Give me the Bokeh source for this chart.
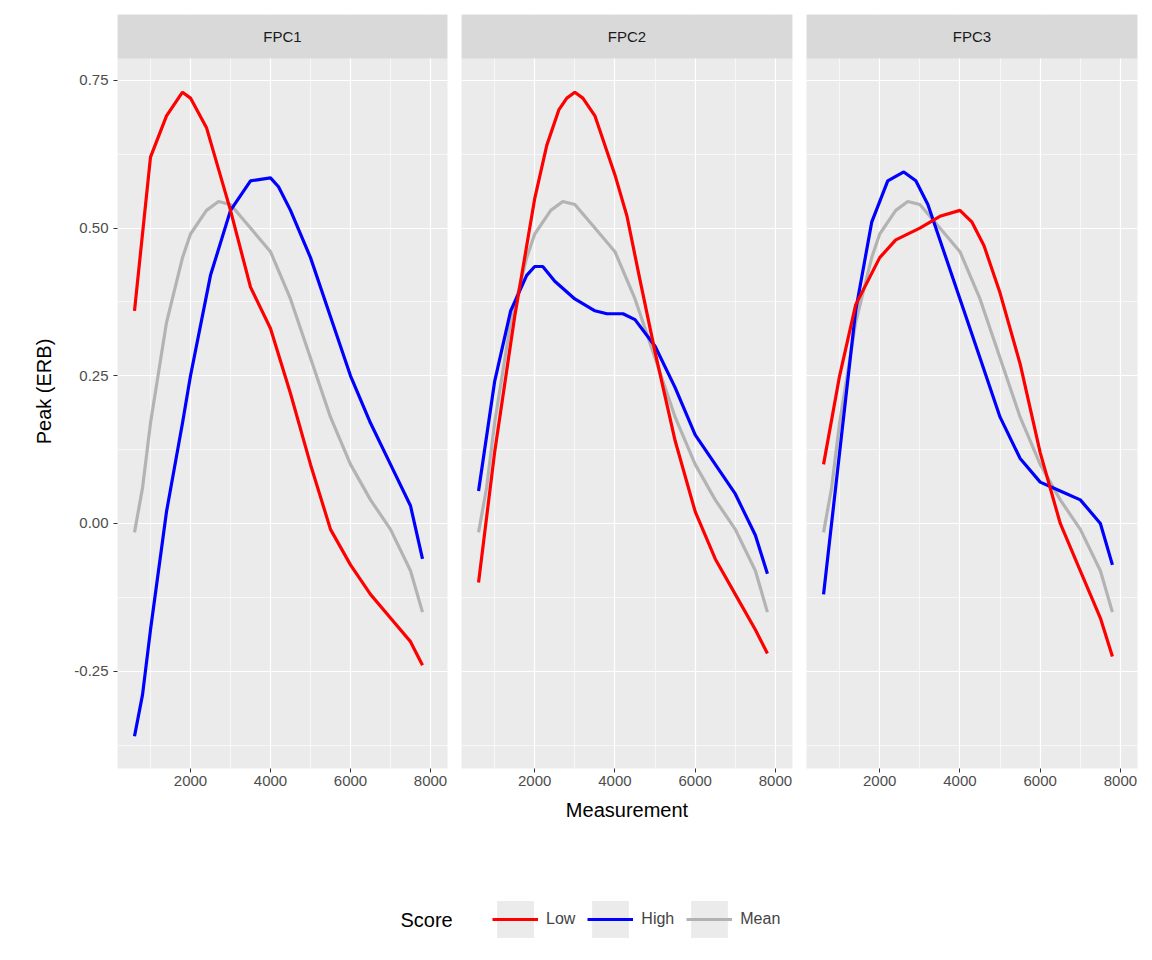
from bokeh.plotting import figure
from bokeh.layouts import column, row
from bokeh.models import FixedTicker, Legend, LegendItem, Label, Range1d
from bokeh.embed import file_html
from bokeh.resources import INLINE
from bokeh.core.properties import value

panels = ["FPC1", "FPC2", "FPC3"]
mean_x = [600, 800, 1000, 1400, 1800, 2000, 2400, 2700, 3000, 3500, 4000, 4500, 5000, 5500, 6000, 6500, 7000, 7500, 7800]
mean_y = [-0.015, 0.06, 0.17, 0.34, 0.45, 0.49, 0.53, 0.545, 0.54, 0.50, 0.46, 0.38, 0.28, 0.18, 0.10, 0.04, -0.01, -0.08, -0.15]

low_x = {
    "FPC1": [600, 1000, 1400, 1800, 2000, 2400, 3000, 3500, 4000, 4500, 5000, 5500, 6000, 6500, 7000, 7500, 7800],
    "FPC2": [600, 1000, 1500, 2000, 2300, 2600, 2800, 3000, 3200, 3500, 4000, 4300, 4600, 5000, 5500, 6000, 6500, 7000, 7500, 7800],
    "FPC3": [600, 1000, 1400, 2000, 2400, 3000, 3500, 4000, 4300, 4600, 5000, 5500, 6000, 6500, 7000, 7500, 7800],
}
low_y = {
    "FPC1": [0.36, 0.62, 0.69, 0.73, 0.72, 0.67, 0.53, 0.40, 0.33, 0.22, 0.10, -0.01, -0.07, -0.12, -0.16, -0.20, -0.24],
    "FPC2": [-0.10, 0.12, 0.35, 0.55, 0.64, 0.70, 0.72, 0.73, 0.72, 0.69, 0.59, 0.52, 0.42, 0.29, 0.14, 0.02, -0.06, -0.12, -0.18, -0.22],
    "FPC3": [0.10, 0.25, 0.37, 0.45, 0.48, 0.50, 0.52, 0.53, 0.51, 0.47, 0.39, 0.27, 0.12, 0.00, -0.08, -0.16, -0.225],
}
high_x = {
    "FPC1": [600, 800, 1000, 1400, 1800, 2000, 2500, 3000, 3500, 4000, 4200, 4500, 5000, 5500, 6000, 6500, 7000, 7500, 7800],
    "FPC2": [600, 1000, 1400, 1800, 2000, 2200, 2500, 3000, 3500, 3800, 4200, 4500, 5000, 5500, 6000, 6500, 7000, 7500, 7800],
    "FPC3": [600, 1000, 1400, 1800, 2200, 2600, 2900, 3200, 3600, 4000, 4500, 5000, 5500, 6000, 6500, 7000, 7500, 7800],
}
high_y = {
    "FPC1": [-0.36, -0.29, -0.18, 0.02, 0.17, 0.25, 0.42, 0.53, 0.58, 0.585, 0.57, 0.53, 0.45, 0.35, 0.25, 0.17, 0.10, 0.03, -0.06],
    "FPC2": [0.055, 0.24, 0.36, 0.42, 0.435, 0.435, 0.41, 0.38, 0.36, 0.355, 0.355, 0.345, 0.30, 0.23, 0.15, 0.10, 0.05, -0.02, -0.085],
    "FPC3": [-0.12, 0.12, 0.36, 0.51, 0.58, 0.595, 0.58, 0.54, 0.46, 0.38, 0.28, 0.18, 0.11, 0.07, 0.055, 0.04, 0.00, -0.07],
}
x_ticks = [2000, 4000, 6000, 8000]
x_minor = [1000, 3000, 5000, 7000]
y_ticks = [-0.25, 0.0, 0.25, 0.5, 0.75]
y_minor = [-0.375, -0.125, 0.125, 0.375, 0.625]
y_labels = {-0.25: "-0.25", 0.0: "0.00", 0.25: "0.25", 0.5: "0.50", 0.75: "0.75"}

FONT = "Liberation Sans"
Y0, Y1 = -0.4147, 0.787
STRIP_TOP = 0.8615

figs = []
for i, name in enumerate(panels):
    left = 117 if i == 0 else 7
    right = 7
    p = figure(frame_width=331 if i else 330, frame_height=754, output_backend="svg",
               toolbar_location=None, x_range=Range1d(175, 8425), y_range=Range1d(Y0, STRIP_TOP),
               min_border_left=left, min_border_right=right, min_border_top=14, min_border_bottom=72,
               background_fill_color="#ebebeb", border_fill_color="white", outline_line_color=None)
    p.xaxis.ticker = FixedTicker(ticks=x_ticks, minor_ticks=x_minor)
    p.yaxis.ticker = FixedTicker(ticks=y_ticks, minor_ticks=y_minor)
    for ax in (p.xaxis, p.yaxis):
        ax.axis_line_color = None
        ax.major_tick_line_color = "#333333"
        ax.major_tick_out = 4
        ax.major_tick_in = 0
        ax.minor_tick_line_color = None
        ax.major_label_text_font = FONT
        ax.major_label_text_font_size = "15px"
        ax.major_label_text_color = "#4d4d4d"
        ax.axis_label_text_font = FONT
        ax.axis_label_text_font_size = "20px"
        ax.axis_label_text_font_style = "normal"
        ax.axis_label_text_color = "black"
    p.yaxis.major_label_overrides = y_labels
    p.yaxis.axis_label_standoff = 16
    p.xaxis.axis_label_standoff = 10
    if i > 0:
        p.yaxis.visible = False
    else:
        p.yaxis.axis_label = "Peak (ERB)"
    if i == 1:
        p.xaxis.axis_label = "Measurement"
    p.xaxis.major_label_standoff = 3
    for g in (p.xgrid, p.ygrid):
        g.grid_line_color = "white"
        g.grid_line_width = 1.2
        g.minor_grid_line_color = "white"
        g.minor_grid_line_width = 0.6
    p.line(mean_x, mean_y, line_color="#b3b3b3", line_width=3.2)
    p.line(high_x[name], high_y[name], line_color="blue", line_width=3.2)
    p.line(low_x[name], low_y[name], line_color="red", line_width=3.2)
    p.quad(left=[175], right=[8425], bottom=[Y1], top=[STRIP_TOP], fill_color="#d9d9d9", line_color=None)
    p.text(x=[4300], y=[(Y1 + STRIP_TOP) / 2], text=[name], text_align="center", text_baseline="middle",
           text_font=value(FONT), text_font_size="15px", text_color="#1a1a1a")
    figs.append(p)

lg = figure(width=1140, height=110, output_backend="svg", toolbar_location=None,
            x_range=Range1d(0, 1), y_range=Range1d(0, 1), outline_line_color=None,
            min_border=0, background_fill_color="white")
lg.axis.visible = False
lg.grid.visible = False
items = []
for lab, col in [("Low", "red"), ("High", "blue"), ("Mean", "#b3b3b3")]:
    sq = lg.quad(left=[-5], right=[-4], bottom=[-5], top=[-4], fill_color="#ebebeb", line_color=None)
    ln = lg.line([-5, -4], [-5, -5], line_color=col, line_width=3.2)
    items.append(LegendItem(label=lab, renderers=[sq, ln]))
leg = Legend(items=items, orientation="horizontal", location=(492, 8), glyph_width=46, glyph_height=46,
             label_text_font=FONT, label_text_font_size="16px", label_standoff=8, spacing=12,
             border_line_color=None, background_fill_alpha=0, padding=0, margin=0)
lg.add_layout(leg, "center")
lg.add_layout(Label(x=400, y=20, x_units="screen", y_units="screen", text="Score",
                    text_font=FONT, text_font_size="20px", text_color="black"))

layout = column(row(*figs, spacing=0), lg, spacing=0)
open("out.html", "w").write(file_html(layout, INLINE))
